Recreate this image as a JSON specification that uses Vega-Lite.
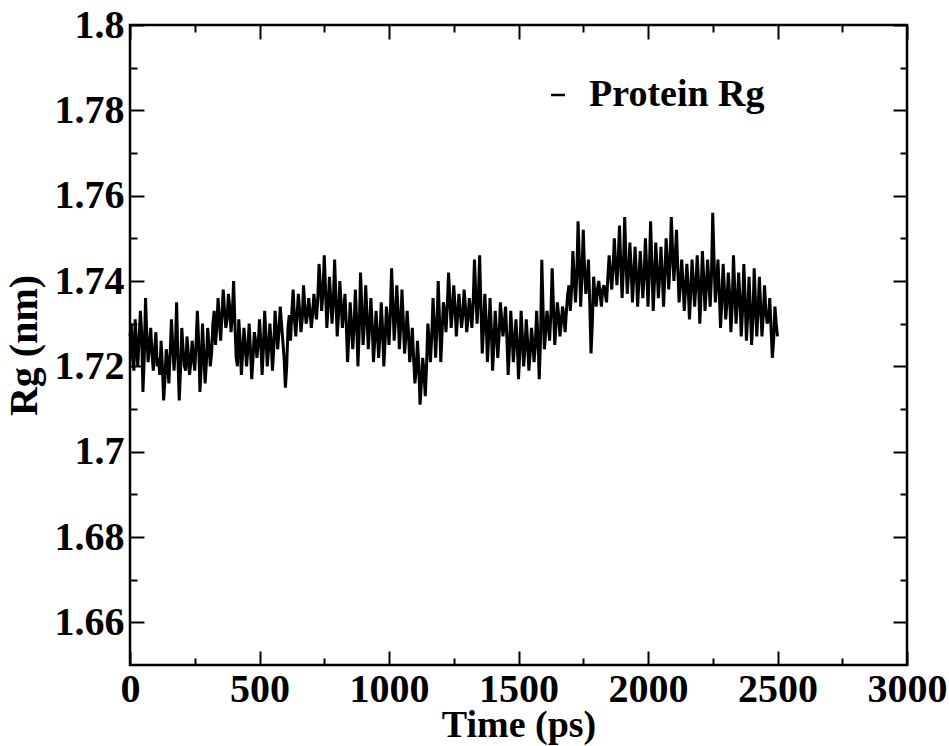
{
"$schema":"https://vega.github.io/schema/vega-lite/v6.json",
"width":777,"height":640,
"autosize":{"type":"none"},
"padding":{"left":130,"top":25,"right":42,"bottom":81},
"background":"white",
"config":{
 "view":{"stroke":"black","strokeWidth":2.5},
 "axis":{"domain":false,"grid":false,"tickColor":"black","tickWidth":2,"labelFont":"Liberation Serif","labelFontWeight":"bold","labelFontSize":40,"labelColor":"black","titleFont":"Liberation Serif","titleFontWeight":"bold","titleFontSize":40,"titleColor":"black","labelFlush":false,"labelOverlap":false},
 "legend":{"labelFont":"Liberation Serif","labelFontWeight":"bold","labelFontSize":38,"labelColor":"black","labelLimit":0}
},
"data":{"values":[
{"t":0,"rg":1.727},{"t":10,"rg":1.722},{"t":20,"rg":1.731},{"t":30,"rg":1.720},{"t":40,"rg":1.733},{"t":50,"rg":1.714},{"t":60,"rg":1.736},{"t":70,"rg":1.721},{"t":80,"rg":1.729},{"t":90,"rg":1.719},
{"t":100,"rg":1.728},{"t":110,"rg":1.722},{"t":120,"rg":1.726},{"t":130,"rg":1.712},{"t":140,"rg":1.724},{"t":150,"rg":1.716},{"t":160,"rg":1.731},{"t":170,"rg":1.719},{"t":180,"rg":1.735},{"t":190,"rg":1.712},
{"t":200,"rg":1.729},{"t":210,"rg":1.720},{"t":220,"rg":1.727},{"t":230,"rg":1.718},{"t":240,"rg":1.726},{"t":250,"rg":1.719},{"t":260,"rg":1.733},{"t":270,"rg":1.714},{"t":280,"rg":1.730},{"t":290,"rg":1.716},
{"t":300,"rg":1.729},{"t":310,"rg":1.720},{"t":320,"rg":1.730},{"t":330,"rg":1.725},{"t":340,"rg":1.736},{"t":350,"rg":1.726},{"t":360,"rg":1.738},{"t":370,"rg":1.729},{"t":380,"rg":1.737},{"t":390,"rg":1.728},
{"t":400,"rg":1.740},{"t":410,"rg":1.722},{"t":420,"rg":1.731},{"t":430,"rg":1.718},{"t":440,"rg":1.729},{"t":450,"rg":1.720},{"t":460,"rg":1.730},{"t":470,"rg":1.717},{"t":480,"rg":1.728},{"t":490,"rg":1.722},
{"t":500,"rg":1.731},{"t":510,"rg":1.718},{"t":520,"rg":1.733},{"t":530,"rg":1.720},{"t":540,"rg":1.730},{"t":550,"rg":1.719},{"t":560,"rg":1.733},{"t":570,"rg":1.724},{"t":580,"rg":1.734},{"t":590,"rg":1.726},
{"t":600,"rg":1.715},{"t":610,"rg":1.729},{"t":620,"rg":1.726},{"t":630,"rg":1.738},{"t":640,"rg":1.727},{"t":650,"rg":1.737},{"t":660,"rg":1.728},{"t":670,"rg":1.739},{"t":680,"rg":1.730},{"t":690,"rg":1.736},
{"t":700,"rg":1.729},{"t":710,"rg":1.737},{"t":720,"rg":1.731},{"t":730,"rg":1.744},{"t":740,"rg":1.733},{"t":750,"rg":1.746},{"t":760,"rg":1.729},{"t":770,"rg":1.741},{"t":780,"rg":1.730},{"t":790,"rg":1.745},
{"t":800,"rg":1.727},{"t":810,"rg":1.740},{"t":820,"rg":1.729},{"t":830,"rg":1.737},{"t":840,"rg":1.721},{"t":850,"rg":1.735},{"t":860,"rg":1.724},{"t":870,"rg":1.738},{"t":880,"rg":1.720},{"t":890,"rg":1.742},
{"t":900,"rg":1.725},{"t":910,"rg":1.739},{"t":920,"rg":1.724},{"t":930,"rg":1.736},{"t":940,"rg":1.721},{"t":950,"rg":1.733},{"t":960,"rg":1.722},{"t":970,"rg":1.735},{"t":980,"rg":1.720},{"t":990,"rg":1.734},
{"t":1000,"rg":1.725},{"t":1010,"rg":1.743},{"t":1020,"rg":1.726},{"t":1030,"rg":1.739},{"t":1040,"rg":1.724},{"t":1050,"rg":1.738},{"t":1060,"rg":1.723},{"t":1070,"rg":1.733},{"t":1080,"rg":1.721},{"t":1090,"rg":1.729},
{"t":1100,"rg":1.716},{"t":1110,"rg":1.726},{"t":1120,"rg":1.711},{"t":1130,"rg":1.722},{"t":1140,"rg":1.713},{"t":1150,"rg":1.730},{"t":1160,"rg":1.721},{"t":1170,"rg":1.736},{"t":1180,"rg":1.722},{"t":1190,"rg":1.740},
{"t":1200,"rg":1.721},{"t":1210,"rg":1.735},{"t":1220,"rg":1.728},{"t":1230,"rg":1.742},{"t":1240,"rg":1.729},{"t":1250,"rg":1.739},{"t":1260,"rg":1.727},{"t":1270,"rg":1.737},{"t":1280,"rg":1.729},{"t":1290,"rg":1.738},
{"t":1300,"rg":1.728},{"t":1310,"rg":1.736},{"t":1320,"rg":1.729},{"t":1330,"rg":1.745},{"t":1340,"rg":1.730},{"t":1350,"rg":1.746},{"t":1360,"rg":1.723},{"t":1370,"rg":1.737},{"t":1380,"rg":1.721},{"t":1390,"rg":1.736},
{"t":1400,"rg":1.719},{"t":1410,"rg":1.733},{"t":1420,"rg":1.722},{"t":1430,"rg":1.735},{"t":1440,"rg":1.727},{"t":1450,"rg":1.734},{"t":1460,"rg":1.718},{"t":1470,"rg":1.733},{"t":1480,"rg":1.721},{"t":1490,"rg":1.731},
{"t":1500,"rg":1.717},{"t":1510,"rg":1.733},{"t":1520,"rg":1.720},{"t":1530,"rg":1.731},{"t":1540,"rg":1.719},{"t":1550,"rg":1.729},{"t":1560,"rg":1.721},{"t":1570,"rg":1.733},{"t":1580,"rg":1.717},{"t":1590,"rg":1.745},
{"t":1600,"rg":1.724},{"t":1610,"rg":1.733},{"t":1620,"rg":1.726},{"t":1630,"rg":1.743},{"t":1640,"rg":1.725},{"t":1650,"rg":1.735},{"t":1660,"rg":1.727},{"t":1670,"rg":1.734},{"t":1680,"rg":1.728},{"t":1690,"rg":1.737},
{"t":1700,"rg":1.733},{"t":1710,"rg":1.747},{"t":1720,"rg":1.735},{"t":1730,"rg":1.754},{"t":1740,"rg":1.734},{"t":1750,"rg":1.752},{"t":1760,"rg":1.737},{"t":1770,"rg":1.745},{"t":1780,"rg":1.723},{"t":1790,"rg":1.741},
{"t":1800,"rg":1.734},{"t":1810,"rg":1.740},{"t":1820,"rg":1.734},{"t":1830,"rg":1.739},{"t":1840,"rg":1.735},{"t":1850,"rg":1.746},{"t":1860,"rg":1.738},{"t":1870,"rg":1.750},{"t":1880,"rg":1.739},{"t":1890,"rg":1.753},
{"t":1900,"rg":1.736},{"t":1910,"rg":1.755},{"t":1920,"rg":1.737},{"t":1930,"rg":1.749},{"t":1940,"rg":1.735},{"t":1950,"rg":1.748},{"t":1960,"rg":1.734},{"t":1970,"rg":1.747},{"t":1980,"rg":1.736},{"t":1990,"rg":1.750},
{"t":2000,"rg":1.734},{"t":2010,"rg":1.754},{"t":2020,"rg":1.733},{"t":2030,"rg":1.749},{"t":2040,"rg":1.736},{"t":2050,"rg":1.748},{"t":2060,"rg":1.734},{"t":2070,"rg":1.750},{"t":2080,"rg":1.738},{"t":2090,"rg":1.755},
{"t":2100,"rg":1.740},{"t":2110,"rg":1.752},{"t":2120,"rg":1.735},{"t":2130,"rg":1.745},{"t":2140,"rg":1.733},{"t":2150,"rg":1.744},{"t":2160,"rg":1.731},{"t":2170,"rg":1.745},{"t":2180,"rg":1.734},{"t":2190,"rg":1.746},
{"t":2200,"rg":1.730},{"t":2210,"rg":1.747},{"t":2220,"rg":1.733},{"t":2230,"rg":1.745},{"t":2240,"rg":1.734},{"t":2250,"rg":1.756},{"t":2260,"rg":1.735},{"t":2270,"rg":1.745},{"t":2280,"rg":1.729},{"t":2290,"rg":1.744},
{"t":2300,"rg":1.731},{"t":2310,"rg":1.742},{"t":2320,"rg":1.728},{"t":2330,"rg":1.746},{"t":2340,"rg":1.730},{"t":2350,"rg":1.742},{"t":2360,"rg":1.727},{"t":2370,"rg":1.744},{"t":2380,"rg":1.726},{"t":2390,"rg":1.741},
{"t":2400,"rg":1.725},{"t":2410,"rg":1.743},{"t":2420,"rg":1.727},{"t":2430,"rg":1.741},{"t":2440,"rg":1.727},{"t":2450,"rg":1.739},{"t":2460,"rg":1.730},{"t":2470,"rg":1.736},{"t":2480,"rg":1.722},{"t":2490,"rg":1.734},
{"t":2500,"rg":1.727},
{"t":5,"rg":1.730},{"t":15,"rg":1.719},{"t":25,"rg":1.725},{"t":35,"rg":1.726},{"t":45,"rg":1.728},{"t":55,"rg":1.722},{"t":65,"rg":1.727},{"t":75,"rg":1.725},{"t":85,"rg":1.723},{"t":95,"rg":1.724},
{"t":105,"rg":1.720},{"t":115,"rg":1.718},{"t":125,"rg":1.720},{"t":135,"rg":1.717},{"t":145,"rg":1.721},{"t":155,"rg":1.723},{"t":165,"rg":1.725},{"t":175,"rg":1.724},{"t":185,"rg":1.722},{"t":195,"rg":1.719},
{"t":205,"rg":1.724},{"t":215,"rg":1.719},{"t":225,"rg":1.723},{"t":235,"rg":1.721},{"t":245,"rg":1.722},{"t":255,"rg":1.725},{"t":265,"rg":1.726},{"t":275,"rg":1.720},{"t":285,"rg":1.723},{"t":295,"rg":1.721},
{"t":305,"rg":1.725},{"t":315,"rg":1.723},{"t":325,"rg":1.733},{"t":335,"rg":1.729},{"t":345,"rg":1.731},{"t":355,"rg":1.732},{"t":365,"rg":1.733},{"t":375,"rg":1.731},{"t":385,"rg":1.734},{"t":395,"rg":1.732},
{"t":405,"rg":1.730},{"t":415,"rg":1.720},{"t":425,"rg":1.726},{"t":435,"rg":1.723},{"t":445,"rg":1.725},{"t":455,"rg":1.724},{"t":465,"rg":1.724},{"t":475,"rg":1.722},{"t":485,"rg":1.726},{"t":495,"rg":1.725},
{"t":505,"rg":1.726},{"t":515,"rg":1.724},{"t":525,"rg":1.727},{"t":535,"rg":1.724},{"t":545,"rg":1.726},{"t":555,"rg":1.724},{"t":565,"rg":1.729},{"t":575,"rg":1.728},{"t":585,"rg":1.730},{"t":595,"rg":1.722},
{"t":605,"rg":1.720},{"t":615,"rg":1.732},{"t":625,"rg":1.733},{"t":635,"rg":1.731},{"t":645,"rg":1.732},{"t":655,"rg":1.733},{"t":665,"rg":1.731},{"t":675,"rg":1.734},{"t":685,"rg":1.732},{"t":695,"rg":1.733},
{"t":705,"rg":1.732},{"t":715,"rg":1.734},{"t":725,"rg":1.736},{"t":735,"rg":1.739},{"t":745,"rg":1.737},{"t":755,"rg":1.738},{"t":765,"rg":1.734},{"t":775,"rg":1.736},{"t":785,"rg":1.735},{"t":795,"rg":1.736},
{"t":805,"rg":1.732},{"t":815,"rg":1.735},{"t":825,"rg":1.733},{"t":835,"rg":1.730},{"t":845,"rg":1.727},{"t":855,"rg":1.730},{"t":865,"rg":1.729},{"t":875,"rg":1.731},{"t":885,"rg":1.728},{"t":895,"rg":1.734},
{"t":905,"rg":1.730},{"t":915,"rg":1.732},{"t":925,"rg":1.729},{"t":935,"rg":1.730},{"t":945,"rg":1.726},{"t":955,"rg":1.728},{"t":965,"rg":1.727},{"t":975,"rg":1.729},{"t":985,"rg":1.726},{"t":995,"rg":1.730},
{"t":1005,"rg":1.732},{"t":1015,"rg":1.735},{"t":1025,"rg":1.731},{"t":1035,"rg":1.733},{"t":1045,"rg":1.729},{"t":1055,"rg":1.731},{"t":1065,"rg":1.727},{"t":1075,"rg":1.728},{"t":1085,"rg":1.724},{"t":1095,"rg":1.722},
{"t":1105,"rg":1.719},{"t":1115,"rg":1.720},{"t":1125,"rg":1.716},{"t":1135,"rg":1.719},{"t":1145,"rg":1.720},{"t":1155,"rg":1.726},{"t":1165,"rg":1.727},{"t":1175,"rg":1.730},{"t":1185,"rg":1.729},{"t":1195,"rg":1.731},
{"t":1205,"rg":1.728},{"t":1215,"rg":1.733},{"t":1225,"rg":1.734},{"t":1235,"rg":1.736},{"t":1245,"rg":1.733},{"t":1255,"rg":1.734},{"t":1265,"rg":1.732},{"t":1275,"rg":1.733},{"t":1285,"rg":1.732},{"t":1295,"rg":1.734},
{"t":1305,"rg":1.731},{"t":1315,"rg":1.733},{"t":1325,"rg":1.735},{"t":1335,"rg":1.737},{"t":1345,"rg":1.736},{"t":1355,"rg":1.734},{"t":1365,"rg":1.729},{"t":1375,"rg":1.731},{"t":1385,"rg":1.727},{"t":1395,"rg":1.729},
{"t":1405,"rg":1.725},{"t":1415,"rg":1.728},{"t":1425,"rg":1.727},{"t":1435,"rg":1.731},{"t":1445,"rg":1.730},{"t":1455,"rg":1.727},{"t":1465,"rg":1.724},{"t":1475,"rg":1.728},{"t":1485,"rg":1.725},{"t":1495,"rg":1.726},
{"t":1505,"rg":1.723},{"t":1515,"rg":1.727},{"t":1525,"rg":1.724},{"t":1535,"rg":1.726},{"t":1545,"rg":1.723},{"t":1555,"rg":1.726},{"t":1565,"rg":1.725},{"t":1575,"rg":1.727},{"t":1585,"rg":1.726},{"t":1595,"rg":1.733},
{"t":1605,"rg":1.728},{"t":1615,"rg":1.730},{"t":1625,"rg":1.732},{"t":1635,"rg":1.734},{"t":1645,"rg":1.730},{"t":1655,"rg":1.732},{"t":1665,"rg":1.730},{"t":1675,"rg":1.732},{"t":1685,"rg":1.733},{"t":1695,"rg":1.739},
{"t":1705,"rg":1.738},{"t":1715,"rg":1.741},{"t":1725,"rg":1.741},{"t":1735,"rg":1.745},{"t":1745,"rg":1.741},{"t":1755,"rg":1.743},{"t":1765,"rg":1.740},{"t":1775,"rg":1.735},{"t":1785,"rg":1.730},{"t":1795,"rg":1.737},
{"t":1805,"rg":1.738},{"t":1815,"rg":1.737},{"t":1825,"rg":1.738},{"t":1835,"rg":1.737},{"t":1845,"rg":1.741},{"t":1855,"rg":1.742},{"t":1865,"rg":1.743},{"t":1875,"rg":1.744},{"t":1885,"rg":1.745},{"t":1895,"rg":1.744},
{"t":1905,"rg":1.743},{"t":1915,"rg":1.745},{"t":1925,"rg":1.742},{"t":1935,"rg":1.743},{"t":1945,"rg":1.741},{"t":1955,"rg":1.742},{"t":1965,"rg":1.740},{"t":1975,"rg":1.742},{"t":1985,"rg":1.741},{"t":1995,"rg":1.743},
{"t":2005,"rg":1.742},{"t":2015,"rg":1.744},{"t":2025,"rg":1.740},{"t":2035,"rg":1.743},{"t":2045,"rg":1.741},{"t":2055,"rg":1.742},{"t":2065,"rg":1.741},{"t":2075,"rg":1.745},{"t":2085,"rg":1.744},{"t":2095,"rg":1.747},
{"t":2105,"rg":1.745},{"t":2115,"rg":1.743},{"t":2125,"rg":1.739},{"t":2135,"rg":1.740},{"t":2145,"rg":1.738},{"t":2155,"rg":1.739},{"t":2165,"rg":1.737},{"t":2175,"rg":1.740},{"t":2185,"rg":1.739},{"t":2195,"rg":1.740},
{"t":2205,"rg":1.737},{"t":2215,"rg":1.741},{"t":2225,"rg":1.738},{"t":2235,"rg":1.740},{"t":2245,"rg":1.741},{"t":2255,"rg":1.745},{"t":2265,"rg":1.739},{"t":2275,"rg":1.738},{"t":2285,"rg":1.735},{"t":2295,"rg":1.738},
{"t":2305,"rg":1.735},{"t":2315,"rg":1.737},{"t":2325,"rg":1.734},{"t":2335,"rg":1.738},{"t":2345,"rg":1.735},{"t":2355,"rg":1.736},{"t":2365,"rg":1.733},{"t":2375,"rg":1.736},{"t":2385,"rg":1.732},{"t":2395,"rg":1.734},
{"t":2405,"rg":1.731},{"t":2415,"rg":1.735},{"t":2425,"rg":1.733},{"t":2435,"rg":1.734},{"t":2445,"rg":1.732},{"t":2455,"rg":1.733},{"t":2465,"rg":1.731},{"t":2475,"rg":1.729},{"t":2485,"rg":1.726},{"t":2495,"rg":1.730}
]},
"layer":[
 {"mark":{"type":"line","color":"black","strokeWidth":3},
  "encoding":{
   "x":{"field":"t","type":"quantitative","scale":{"domain":[0,3000],"nice":false,"zero":false},
        "axis":{"orient":"bottom","values":[0,500,1000,1500,2000,2500,3000],"format":"d","tickSize":-14,"labelPadding":18,"title":"Time (ps)","titleFontSize":38,"titleBaseline":"alphabetic","titleY":71}},
   "y":{"field":"rg","type":"quantitative","scale":{"domain":[1.65,1.8],"nice":false,"zero":false},
        "axis":{"orient":"left","values":[1.66,1.68,1.7,1.72,1.74,1.76,1.78,1.8],"format":"~g","tickSize":-14,"labelPadding":20,"title":"Rg (nm)","titlePadding":10}},
   "color":{"datum":"Protein Rg","type":"nominal","scale":{"range":["black"]},
        "legend":{"orient":"none","legendX":409,"legendY":51,"title":null,"symbolType":"stroke","symbolStrokeWidth":2.5,"symbolSize":200,"labelOffset":12,"padding":0}}
  }},
 {"mark":{"type":"line","strokeOpacity":0},
  "encoding":{
   "x":{"field":"t","type":"quantitative","axis":{"orient":"top","values":[0,500,1000,1500,2000,2500,3000],"tickSize":-14,"labels":false,"title":null}},
   "y":{"field":"rg","type":"quantitative","axis":{"orient":"right","values":[1.66,1.68,1.7,1.72,1.74,1.76,1.78,1.8],"tickSize":-14,"labels":false,"title":null}}
  }},
 {"mark":{"type":"line","strokeOpacity":0},
  "encoding":{
   "x":{"field":"t","type":"quantitative","axis":{"orient":"bottom","values":[250,750,1250,1750,2250,2750],"tickSize":-7,"labels":false,"title":null}},
   "y":{"field":"rg","type":"quantitative","axis":{"orient":"left","values":[1.67,1.69,1.71,1.73,1.75,1.77,1.79],"tickSize":-7,"labels":false,"title":null}}
  }},
 {"mark":{"type":"line","strokeOpacity":0},
  "encoding":{
   "x":{"field":"t","type":"quantitative","axis":{"orient":"top","values":[250,750,1250,1750,2250,2750],"tickSize":-7,"labels":false,"title":null}},
   "y":{"field":"rg","type":"quantitative","axis":{"orient":"right","values":[1.67,1.69,1.71,1.73,1.75,1.77,1.79],"tickSize":-7,"labels":false,"title":null}}
  }}
],
"resolve":{"axis":{"x":"independent","y":"independent"}}
}
